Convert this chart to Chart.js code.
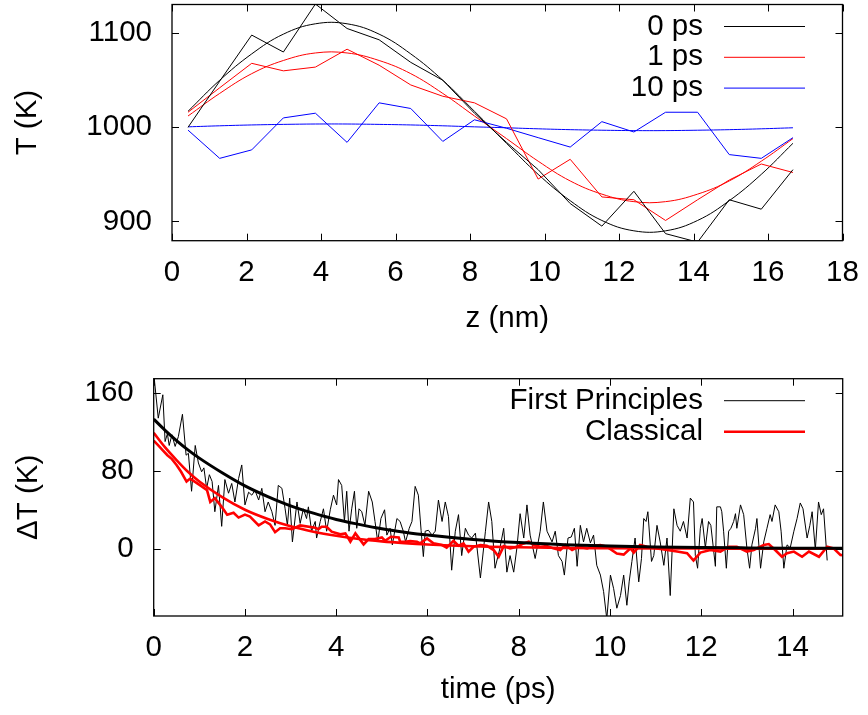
<!DOCTYPE html>
<html>
<head>
<meta charset="utf-8">
<script src="https://cdn.jsdelivr.net/npm/chart.js@4.4.1/dist/chart.umd.min.js"></script>
<style>
  body { margin: 0; background: #fff; }
  #wrap { position: relative; width: 868px; height: 715px; }
  canvas { position: absolute; left: 0; }
  #top { top: 0; }
  #bottom { top: 352px; }
</style>
</head>
<body>
<div id="wrap">
  <canvas id="top" width="868" height="352"></canvas>
  <canvas id="bottom" width="868" height="363"></canvas>
</div>
<script>
// ---- top panel: temperature profiles ----
const zPos = [0.43, 1.28, 2.14, 2.99, 3.85, 4.70, 5.56, 6.41, 7.27, 8.12, 8.98, 9.83, 10.69, 11.54, 12.40, 13.25, 14.11, 14.96, 15.82, 16.67];
const temp0 = [1000, 1049, 1098, 1080, 1131, 1105, 1093, 1069, 1050, 1015, 984, 955, 919, 895, 932, 887, 878, 923, 913, 955];
const temp0Fit = [1017, 1050, 1078, 1099, 1110, 1110, 1099, 1078, 1050, 1017, 983, 950, 922, 901, 890, 890, 901, 922, 950, 983];
const temp1 = [1016, 1042, 1068, 1060, 1064, 1083, 1066, 1045, 1033, 1026, 1009, 945, 966, 926, 923, 901, 923, 944, 961, 952];
const temp1Fit = [1012, 1036, 1057, 1071, 1079, 1079, 1071, 1057, 1036, 1012, 988, 964, 943, 929, 921, 921, 929, 943, 964, 988];
const temp10 = [997, 967, 976, 1010, 1015, 984, 1026, 1020, 985, 1008, 999, 989, 979, 1006, 995, 1016, 1016, 971, 967, 989];
const temp10Fit = [1000.5, 1001.6, 1002.5, 1003.1, 1003.5, 1003.5, 1003.1, 1002.5, 1001.6, 1000.5, 999.5, 998.4, 997.5, 996.9, 996.5, 996.5, 996.9, 997.5, 998.4, 999.5];
const zTicks = [0, 2, 4, 6, 8, 10, 12, 14, 16, 18];
const tempTicks = [900, 1000, 1100];

// ---- bottom panel: temperature difference vs time ----
const fpTime = [0.00, 0.02, 0.10, 0.20, 0.25, 0.30, 0.34, 0.40, 0.47, 0.54, 0.63, 0.71, 0.76, 0.83, 0.91, 0.98, 1.05, 1.10, 1.16, 1.22,
  1.28, 1.34, 1.42, 1.49, 1.56, 1.64, 1.71, 1.78, 1.86, 1.93, 2.00, 2.08, 2.15, 2.22, 2.30, 2.37, 2.44, 2.51, 2.59, 2.66,
  2.73, 2.81, 2.88, 2.93, 2.98, 3.04, 3.14, 3.21, 3.28, 3.35, 3.39, 3.46, 3.54, 3.57, 3.65, 3.72, 3.79, 3.87, 3.94, 4.01,
  4.05, 4.12, 4.18, 4.23, 4.28, 4.34, 4.40, 4.45, 4.50, 4.56, 4.63, 4.71, 4.79, 4.85, 4.91, 4.98, 5.06, 5.11, 5.18, 5.23,
  5.33, 5.40, 5.47, 5.52, 5.60, 5.66, 5.73, 5.80, 5.86, 5.91, 5.95, 6.02, 6.10, 6.17, 6.24, 6.32, 6.39, 6.46, 6.53, 6.61,
  6.68, 6.75, 6.83, 6.90, 6.97, 7.05, 7.16, 7.27, 7.34, 7.41, 7.48, 7.59, 7.67, 7.74, 7.81, 7.89, 7.96, 8.03, 8.11, 8.18,
  8.25, 8.36, 8.47, 8.54, 8.62, 8.73, 8.80, 8.87, 8.95, 9.00, 9.08, 9.15, 9.22, 9.28, 9.35, 9.42, 9.49, 9.57, 9.64, 9.71,
  9.79, 9.86, 9.93, 10.01, 10.08, 10.15, 10.23, 10.30, 10.37, 10.42, 10.48, 10.55, 10.63, 10.69, 10.74, 10.79, 10.83, 10.91, 10.96, 11.03,
  11.10, 11.18, 11.25, 11.32, 11.40, 11.47, 11.54, 11.61, 11.69, 11.76, 11.83, 11.87, 11.92, 11.98, 12.02, 12.09, 12.16, 12.21, 12.31, 12.34,
  12.42, 12.45, 12.49, 12.55, 12.60, 12.65, 12.71, 12.75, 12.78, 12.86, 12.93, 13.00, 13.06, 13.11, 13.19, 13.22, 13.30, 13.37, 13.44, 13.51,
  13.55, 13.62, 13.70, 13.75, 13.81, 13.88, 13.95, 14.03, 14.10, 14.17, 14.23, 14.32, 14.38, 14.43, 14.50, 14.57, 14.63, 14.68, 14.76];
const fpDelta = [185, 171, 134, 158, 110, 118, 106, 117, 105, 115, 138, 96, 98, 59, 106, 88, 79, 83, 62, 76,
  69, 38, 65, 23, 71, 57, 67, 48, 72, 86, 45, 58, 55, 60, 50, 62, 38, 48, 38, 24,
  65, 62, 41, 24, 52, 7, 48, 26, 41, 31, 43, 18, 28, 11, 28, 41, 18, 40, 55, 45,
  71, 65, 28, 59, 18, 41, 59, 21, 41, 38, 24, 59, 48, 28, 7, 31, 40, 14, 21, 4,
  31, 28, 18, 7, 21, 28, 64, 55, 19, -8, 18, 19, 14, 18, 50, 28, 48, 33, -22, 18,
  35, -7, 21, 14, 11, 16, -30, 18, 48, 28, -20, 1, 21, -24, -7, -24, 1, 36, 11, 45,
  14, -10, 18, 48, 18, 7, 18, -7, -13, -27, 11, 12, 21, -18, 24, 7, 21, 6, 14, -17,
  -27, -44, -72, -27, -41, -61, -48, -27, -58, -34, -13, 11, -34, -10, 31, 28, 38, -13, -7, 24,
  7, -17, 11, -48, 41, 24, 18, 28, 11, 52, 48, -7, -20, 21, 31, 1, 28, 24, -18, 43,
  43, 38, 18, -20, 18, 21, 28, 36, 21, 45, 35, 1, -20, 4, 21, 31, -20, 7, 21, 35,
  28, 45, 38, 18, -20, 4, 1, 18, 31, 47, 41, 11, 24, 38, -1, 48, 35, 41, -12];

const clTime = [0.00, 0.10, 0.20, 0.30, 0.40, 0.50, 0.60, 0.72, 0.80, 1.02, 1.17, 1.24, 1.34, 1.49, 1.61, 1.75, 1.86, 2.00, 2.11, 2.30,
  2.44, 2.55, 2.66, 2.77, 2.88, 3.03, 3.21, 3.54, 3.61, 3.68, 3.79, 3.90, 4.09, 4.20, 4.31, 4.42, 4.60, 4.71, 4.85, 5.00,
  5.07, 5.20, 5.37, 5.40, 5.51, 5.62, 5.77, 5.84, 5.99, 6.13, 6.32, 6.42, 6.57, 6.68, 6.79, 6.90, 7.01, 7.16, 7.30, 7.45,
  7.56, 7.67, 7.81, 7.96, 8.11, 8.22, 8.33, 8.47, 8.62, 8.76, 8.91, 9.02, 9.17, 9.31, 9.50, 9.64, 9.79, 9.93, 10.15, 10.30,
  10.45, 10.52, 10.66, 10.81, 11.03, 11.25, 11.47, 11.69, 11.83, 11.98, 12.20, 12.42, 12.60, 12.78, 13.00, 13.15, 13.37, 13.48, 13.62, 13.77,
  13.88, 14.03, 14.21, 14.36, 14.58, 14.76, 14.90, 15.05, 15.10];
const clDelta = [111, 106, 101, 96, 92, 86, 79, 69, 72, 65, 60, 48, 52, 43, 35, 37, 32, 35, 33, 24,
  28, 25, 17, 21, 21, 20, 24, 21.5, 20, 22.6, 22.6, 17.5, 14.8, 15.8, 7.2, 15.8, 4.5, 10, 10, 11.6,
  8.2, 12.3, 11.6, 7.2, 7.2, 7.9, 7.2, 5.5, 10.6, 5.5, 3.8, 1.1, 8.2, 3.1, 5.5, -3, 2.1, 3.8, 3.1, -1.3,
  -8.2, 2.7, 0.4, 2.1, 5.5, 7.2, 3.8, 2.1, 2.7, 0.4, -1.3, 3.8, -1.3, 2.1, 0.4, 2.7, 3.8, 2.1, -5, -6,
  0.5, -4, 3.8, 2.1, 0.4, -1.3, -2.9, -4.6, -12.1, -3.9, -1.3, -2.9, 2.1, 2.1, -2.9, -1.3, 3.8, 4.8, -1.3, -8.2,
  -4.6, -2.9, -8.2, -2.9, -8.2, 2.1, 0.4, -6.4, -6.5];

const fitTime = [0, 0.25, 0.5, 0.75, 1, 1.5, 2, 2.5, 3, 3.5, 4, 4.5, 5, 5.5, 6, 7, 8, 9, 10, 11, 12, 13, 14, 15.1];
const fpFit = [133, 121.5, 111, 101.5, 93, 78, 64.5, 53.5, 44, 36.5, 30, 25, 20.5, 17, 14, 9.5, 6.3, 4.2, 2.8, 1.9, 1.3, 0.9, 0.6, 0.4];
const clFit = [119, 104, 91, 79, 69, 53, 40, 30.5, 23, 17.5, 13.3, 10, 7.6, 5.8, 4.4, 2.5, 1.5, 0.8, 0.5, 0.3, 0.2, 0.1, 0.05, 0];
const timeTicks = [0, 2, 4, 6, 8, 10, 12, 14];
const deltaTicks = [0, 80, 160];

const FONT = { family: "'Liberation Sans', Arial, Helvetica, sans-serif", size: 29.5 };
Chart.defaults.color = '#000';

const pairs = (xs, ys) => xs.map((x, i) => ({ x: x, y: ys[i] }));

function series(xs, ys, color, width, label, extra) {
    return Object.assign({
        label: label || '',
        data: pairs(xs, ys),
        showLine: true,
        borderColor: color,
        backgroundColor: color,
        borderWidth: width,
        pointRadius: 0,
        fill: false
    }, extra || {});
}

// gnuplot style frame with inward ticks on all four sides
const framePlugin = {
    id: 'frame',
    afterDatasetsDraw(chart, args, opts) {
        const { ctx, chartArea: a, scales } = chart;
        const L = opts.tick || 7;
        ctx.save();
        ctx.strokeStyle = '#000';
        ctx.lineWidth = 1;
        ctx.beginPath();
        scales.x.ticks.forEach(t => {
            const px = Math.round(scales.x.getPixelForValue(t.value)) + 0.5;
            ctx.moveTo(px, a.bottom); ctx.lineTo(px, a.bottom - L);
            ctx.moveTo(px, a.top); ctx.lineTo(px, a.top + L);
        });
        scales.y.ticks.forEach(t => {
            const py = Math.round(scales.y.getPixelForValue(t.value)) + 0.5;
            ctx.moveTo(a.left, py); ctx.lineTo(a.left + L, py);
            ctx.moveTo(a.right, py); ctx.lineTo(a.right - L, py);
        });
        ctx.stroke();
        ctx.lineWidth = 1.3;
        ctx.strokeRect(a.left, a.top, a.right - a.left, a.bottom - a.top);
        ctx.restore();
    }
};

// key with right aligned text and a line sample after it
const keyPlugin = {
    id: 'key',
    afterDraw(chart, args, opts) {
        const { ctx } = chart;
        ctx.save();
        ctx.font = `${FONT.size}px ${FONT.family}`;
        ctx.textAlign = 'right';
        ctx.textBaseline = 'middle';
        let y = opts.top;
        chart.data.datasets.forEach(ds => {
            if (!ds.label) return;
            ctx.fillStyle = '#000';
            ctx.fillText(ds.label, opts.textRight, y);
            ctx.strokeStyle = ds.borderColor;
            ctx.lineWidth = ds.borderWidth;
            ctx.beginPath();
            ctx.moveTo(opts.lineFrom, y);
            ctx.lineTo(opts.lineTo, y);
            ctx.stroke();
            y += opts.rowGap;
        });
        ctx.restore();
    }
};

function axis(min, max, tickList, title, width, height, titlePad, tickPad) {
    return {
        type: 'linear',
        min: min,
        max: max,
        grid: { display: false, drawTicks: false },
        border: { display: false },
        ticks: { font: FONT, color: '#000', padding: tickPad, maxRotation: 0, autoSkip: false, callback: v => String(v) },
        afterBuildTicks: sc => { sc.ticks = tickList.map(v => ({ value: v })); },
        // fixed axis size, and no extra room for labels sticking out past the plot
        afterFit: sc => {
            if (width) sc.width = width;
            if (height) sc.height = height;
            sc.paddingTop = 0; sc.paddingBottom = 0;
            sc.paddingLeft = 0; sc.paddingRight = 0;
        },
        title: { display: true, text: title, font: FONT, color: '#000', padding: titlePad }
    };
}

new Chart(document.getElementById('top'), {
    type: 'scatter',
    data: {
        datasets: [
            series(zPos, temp0, '#000000', 1, '0 ps'),
            series(zPos, temp1, '#ff0000', 1, '1 ps'),
            series(zPos, temp10, '#0000ff', 1, '10 ps'),
            series(zPos, temp0Fit, '#000000', 1, '', { tension: 0.4 }),
            series(zPos, temp1Fit, '#ff0000', 1, '', { tension: 0.4 }),
            series(zPos, temp10Fit, '#0000ff', 1, '', { tension: 0.4 })
        ]
    },
    options: {
        responsive: false,
        animation: false,
        layout: { padding: { top: 4.5, right: 25.5, left: 0, bottom: 0 } },
        plugins: {
            legend: { display: false },
            tooltip: { enabled: false },
            key: { textRight: 703, lineFrom: 724, lineTo: 805, top: 26.5, rowGap: 30.8 },
            frame: { tick: 7 }
        },
        scales: {
            x: axis(0, 18, zTicks, 'z (nm)', null, 111.3, { top: 0, bottom: 15 }, 14),
            y: axis(879.5, 1130.5, tempTicks, 'T (K)', 172, null, { top: 10, bottom: 0 }, 20)
        }
    },
    plugins: [framePlugin, keyPlugin]
});

new Chart(document.getElementById('bottom'), {
    type: 'scatter',
    data: {
        datasets: [
            series(fpTime, fpDelta, '#000000', 1, 'First Principles', { order: 4 }),
            series(clTime, clDelta, '#ff0000', 2.6, 'Classical', { order: 3 }),
            series(fitTime, clFit, '#ff0000', 2.6, '', { order: 2, cubicInterpolationMode: 'monotone' }),
            series(fitTime, fpFit, '#000000', 3, '', { order: 1, cubicInterpolationMode: 'monotone' })
        ]
    },
    options: {
        responsive: false,
        animation: false,
        layout: { padding: { top: 26.7, right: 25.3, left: 0, bottom: 0 } },
        plugins: {
            legend: { display: false },
            tooltip: { enabled: false },
            key: { textRight: 703, lineFrom: 724, lineTo: 805, top: 48.7, rowGap: 31 },
            frame: { tick: 7 }
        },
        scales: {
            x: axis(0, 15.1, timeTicks, 'time (ps)', null, 99, { top: 0, bottom: 7.3 }, 14),
            y: axis(-69, 174.5, deltaTicks, 'ΔT (K)', 153.7, null, { top: 11.3, bottom: 0 }, 20)
        }
    },
    plugins: [framePlugin, keyPlugin]
});
</script>
</body>
</html>
